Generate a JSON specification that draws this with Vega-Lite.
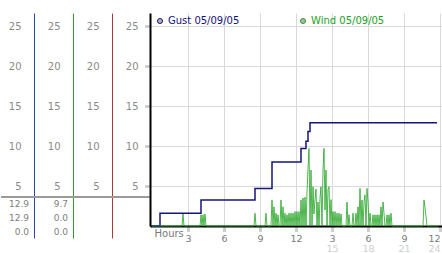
{
  "$schema": "https://vega.github.io/schema/vega-lite/v6.json",
  "padding": {"left": 0, "top": 13, "right": 0, "bottom": 0},
  "background": "white",
  "spacing": 0,
  "bounds": "flush",
  "config": {
    "view": {"stroke": null},
    "font": "DejaVu Sans",
    "axis": {"labelFont": "DejaVu Sans", "labelColor": "#8a8a8a", "labelFontSize": 10, "titleFont": "DejaVu Sans"},
    "legend": {"labelFont": "DejaVu Sans", "symbolFillColor": "#b4b4b4", "symbolStrokeColor": "#8c8c8c"}
  },
  "datasets": {
    "stats": [
      {"series": "Gust", "stat": "Max", "value": 12.9},
      {"series": "Gust", "stat": "Last", "value": 12.9},
      {"series": "Gust", "stat": "Min", "value": 0},
      {"series": "Wind", "stat": "Max", "value": 9.7},
      {"series": "Wind", "stat": "Last", "value": 0},
      {"series": "Wind", "stat": "Min", "value": 0}
    ],
    "gust": [
      {"minute": 0, "speed": 0},
      {"minute": 40, "speed": 1.6},
      {"minute": 245, "speed": 3.25},
      {"minute": 515, "speed": 4.7},
      {"minute": 600, "speed": 8.0},
      {"minute": 745, "speed": 9.7},
      {"minute": 770, "speed": 10.6},
      {"minute": 780, "speed": 11.8},
      {"minute": 790, "speed": 12.9},
      {"minute": 1425, "speed": 12.9}
    ],
    "wind": [
      {"minute": 0, "speed": 0}, {"minute": 150, "speed": 0}, {"minute": 155, "speed": 1.5}, {"minute": 160, "speed": 0},
      {"minute": 240, "speed": 0}, {"minute": 245, "speed": 1.4}, {"minute": 250, "speed": 0}, {"minute": 255, "speed": 1.4},
      {"minute": 260, "speed": 0}, {"minute": 265, "speed": 1.5}, {"minute": 270, "speed": 0},
      {"minute": 510, "speed": 0}, {"minute": 515, "speed": 1.6}, {"minute": 520, "speed": 0},
      {"minute": 565, "speed": 0}, {"minute": 570, "speed": 1.6}, {"minute": 575, "speed": 0},
      {"minute": 595, "speed": 0}, {"minute": 600, "speed": 3.25}, {"minute": 605, "speed": 0}, {"minute": 610, "speed": 2.4},
      {"minute": 615, "speed": 0}, {"minute": 620, "speed": 1.6}, {"minute": 625, "speed": 0}, {"minute": 630, "speed": 1.4},
      {"minute": 635, "speed": 0}, {"minute": 640, "speed": 0}, {"minute": 645, "speed": 3.25}, {"minute": 650, "speed": 0},
      {"minute": 655, "speed": 2.4}, {"minute": 660, "speed": 0}, {"minute": 665, "speed": 1.6}, {"minute": 670, "speed": 0},
      {"minute": 675, "speed": 1.4}, {"minute": 680, "speed": 0}, {"minute": 685, "speed": 1.6}, {"minute": 690, "speed": 0},
      {"minute": 695, "speed": 1.6}, {"minute": 700, "speed": 0}, {"minute": 705, "speed": 1.6}, {"minute": 710, "speed": 0},
      {"minute": 715, "speed": 1.8}, {"minute": 720, "speed": 0}, {"minute": 725, "speed": 1.8}, {"minute": 730, "speed": 0},
      {"minute": 735, "speed": 1.8}, {"minute": 740, "speed": 0}, {"minute": 745, "speed": 3.25}, {"minute": 750, "speed": 0},
      {"minute": 755, "speed": 3.5}, {"minute": 760, "speed": 0}, {"minute": 765, "speed": 3.6}, {"minute": 770, "speed": 0},
      {"minute": 775, "speed": 4.2}, {"minute": 780, "speed": 7.2}, {"minute": 785, "speed": 9.7}, {"minute": 790, "speed": 0},
      {"minute": 795, "speed": 7.0}, {"minute": 800, "speed": 0}, {"minute": 805, "speed": 4.9}, {"minute": 810, "speed": 1.5},
      {"minute": 815, "speed": 3.3}, {"minute": 820, "speed": 4.6}, {"minute": 825, "speed": 0}, {"minute": 830, "speed": 3.0},
      {"minute": 835, "speed": 0}, {"minute": 840, "speed": 3.5}, {"minute": 845, "speed": 4.9}, {"minute": 850, "speed": 0},
      {"minute": 855, "speed": 7.0}, {"minute": 860, "speed": 9.7}, {"minute": 865, "speed": 2.0}, {"minute": 870, "speed": 7.0},
      {"minute": 875, "speed": 0}, {"minute": 880, "speed": 4.6}, {"minute": 885, "speed": 4.9}, {"minute": 890, "speed": 0},
      {"minute": 895, "speed": 3.3}, {"minute": 900, "speed": 0}, {"minute": 905, "speed": 1.8}, {"minute": 910, "speed": 0},
      {"minute": 915, "speed": 1.8}, {"minute": 920, "speed": 0}, {"minute": 925, "speed": 1.6}, {"minute": 930, "speed": 0},
      {"minute": 935, "speed": 1.6}, {"minute": 940, "speed": 0}, {"minute": 945, "speed": 1.5}, {"minute": 950, "speed": 0},
      {"minute": 970, "speed": 0}, {"minute": 975, "speed": 3.0}, {"minute": 980, "speed": 0}, {"minute": 985, "speed": 1.4},
      {"minute": 990, "speed": 0}, {"minute": 1000, "speed": 0}, {"minute": 1005, "speed": 1.6}, {"minute": 1010, "speed": 0},
      {"minute": 1015, "speed": 0}, {"minute": 1020, "speed": 1.6}, {"minute": 1025, "speed": 0}, {"minute": 1030, "speed": 2.4},
      {"minute": 1035, "speed": 0}, {"minute": 1040, "speed": 4.7}, {"minute": 1045, "speed": 0}, {"minute": 1050, "speed": 3.25},
      {"minute": 1055, "speed": 0}, {"minute": 1060, "speed": 3.0}, {"minute": 1065, "speed": 3.9}, {"minute": 1070, "speed": 0},
      {"minute": 1075, "speed": 4.7}, {"minute": 1080, "speed": 3.0}, {"minute": 1085, "speed": 0}, {"minute": 1090, "speed": 1.6},
      {"minute": 1095, "speed": 0}, {"minute": 1100, "speed": 0}, {"minute": 1105, "speed": 1.4}, {"minute": 1110, "speed": 0},
      {"minute": 1115, "speed": 1.4}, {"minute": 1120, "speed": 0}, {"minute": 1125, "speed": 1.4}, {"minute": 1130, "speed": 0},
      {"minute": 1135, "speed": 1.4}, {"minute": 1140, "speed": 0}, {"minute": 1145, "speed": 2.4}, {"minute": 1150, "speed": 0},
      {"minute": 1155, "speed": 3.0}, {"minute": 1160, "speed": 1.6}, {"minute": 1165, "speed": 0}, {"minute": 1170, "speed": 0},
      {"minute": 1175, "speed": 1.4}, {"minute": 1180, "speed": 0}, {"minute": 1185, "speed": 1.4}, {"minute": 1190, "speed": 0},
      {"minute": 1195, "speed": 1.6}, {"minute": 1200, "speed": 0},
      {"minute": 1355, "speed": 0}, {"minute": 1360, "speed": 3.25}, {"minute": 1365, "speed": 2.3}, {"minute": 1370, "speed": 1.2},
      {"minute": 1375, "speed": 0}, {"minute": 1430, "speed": 0}
    ]
  },
  "hconcat": [
    {
      "width": 33, "height": 225,
      "layer": [
        {
          "data": {"values": [{}]},
          "mark": {"type": "rule", "color": "#9a9a9a", "strokeWidth": 2},
          "encoding": {
            "y": {"datum": 3.625, "type": "quantitative",
              "scale": {"domain": [-1.5, 26.625], "nice": false, "zero": false},
              "axis": {"orient": "left", "offset": -33, "values": [5, 10, 15, 20, 25], "ticks": false, "grid": false,
                "domainColor": "#2a46a0", "domainWidth": 1, "labelPadding": 13, "title": null}}
          }
        },
        {
          "data": {"name": "stats"},
          "transform": [{"filter": "datum.series == 'Gust'"}],
          "mark": {"type": "text", "x": "width", "dx": -5, "align": "right", "baseline": "middle", "fontSize": 9, "color": "#808080"},
          "encoding": {
            "y": {"field": "stat", "type": "ordinal", "sort": ["Max", "Last", "Min"],
              "scale": {"type": "point", "range": [191, 219], "padding": 0}, "axis": null},
            "text": {"field": "value", "type": "quantitative", "format": ".1f"}
          }
        }
      ],
      "resolve": {"scale": {"y": "independent"}}
    },
    {
      "width": 39, "height": 225,
      "layer": [
        {
          "data": {"values": [{}]},
          "mark": {"type": "rule", "color": "#9a9a9a", "strokeWidth": 2},
          "encoding": {
            "y": {"datum": 3.625, "type": "quantitative",
              "scale": {"domain": [-1.5, 26.625], "nice": false, "zero": false},
              "axis": {"orient": "left", "offset": -39, "values": [5, 10, 15, 20, 25], "ticks": false, "grid": false,
                "domainColor": "#2f9e2f", "domainWidth": 1, "labelPadding": 13, "title": null}}
          }
        },
        {
          "data": {"name": "stats"},
          "transform": [{"filter": "datum.series == 'Wind'"}],
          "mark": {"type": "text", "x": "width", "dx": -5, "align": "right", "baseline": "middle", "fontSize": 9, "color": "#808080"},
          "encoding": {
            "y": {"field": "stat", "type": "ordinal", "sort": ["Max", "Last", "Min"],
              "scale": {"type": "point", "range": [191, 219], "padding": 0}, "axis": null},
            "text": {"field": "value", "type": "quantitative", "format": ".1f"}
          }
        }
      ],
      "resolve": {"scale": {"y": "independent"}}
    },
    {
      "width": 39, "height": 225,
      "data": {"values": [{}]},
      "mark": {"type": "rule", "color": "#9a9a9a", "strokeWidth": 2},
      "encoding": {
        "y": {"datum": 3.625, "type": "quantitative",
          "scale": {"domain": [-1.5, 26.625], "nice": false, "zero": false},
          "axis": {"orient": "left", "offset": -39, "values": [5, 10, 15, 20, 25], "ticks": false, "grid": false,
            "domainColor": "#b03a3a", "domainWidth": 1, "labelPadding": 13, "title": null}}
      }
    },
    {
      "width": 38, "height": 225,
      "data": {"values": [{}]},
      "mark": {"type": "rule", "color": "#9a9a9a", "strokeWidth": 2},
      "encoding": {
        "y": {"datum": 3.625, "type": "quantitative",
          "scale": {"domain": [-1.5, 26.625], "nice": false, "zero": false}, "axis": null}
      }
    },
    {
      "width": 293, "height": 213,
      "layer": [
        {
          "data": {"name": "gust"},
          "mark": {"type": "line", "interpolate": "step-after", "strokeWidth": 1.5},
          "encoding": {
            "x": {"field": "minute", "type": "quantitative",
              "scale": {"domain": [-10, 1455], "nice": false, "zero": false},
              "axis": {"orient": "bottom", "values": [180, 360, 540, 720, 900, 1080, 1260, 1440],
                "labelExpr": "datum.value % 720 == 0 ? '12' : '' + (datum.value / 60 % 12)",
                "grid": true, "gridColor": "#d9d9d9", "domainColor": "#000000", "domainWidth": 2,
                "tickSize": 5, "tickColor": "#a0a0a0", "tickWidth": 3, "tickDash": [1, 1],
                "labelPadding": 2, "labelFlush": 4, "labelFontSize": 9.5, "labelColor": "#7a7a7a",
                "title": "Hours", "titleX": 4, "titleY": 7, "titleAlign": "left", "titleAnchor": "start",
                "titleBaseline": "middle", "titleFontWeight": "normal", "titleFontSize": 10, "titleColor": "#7a7a7a"}},
            "y": {"field": "speed", "type": "quantitative",
              "scale": {"domain": [0, 26.625], "nice": false, "zero": false},
              "axis": {"values": [5, 10, 15, 20, 25], "grid": true, "gridColor": "#d9d9d9", "domainColor": "#000000",
                "domainWidth": 2, "tickSize": 5, "tickColor": "#a0a0a0", "tickWidth": 3, "tickDash": [1, 1],
                "labelPadding": 7, "labelColor": "#8a8a8a", "labelFontSize": 10, "title": null}},
            "color": {"datum": "Gust 05/09/05", "type": "nominal",
              "scale": {"domain": ["Gust 05/09/05", "Wind 05/09/05"], "range": ["#14147f", "#22a322"]},
              "legend": {"orient": "none", "legendX": 154, "legendY": 3, "direction": "horizontal", "title": null,
                "symbolType": "circle", "symbolSize": 25, "symbolFillColor": "#b4b4b4", "symbolStrokeColor": "#8c8c8c",
                "symbolStrokeWidth": 1, "labelFontSize": 10, "labelOffset": 3, "columnPadding": 58, "padding": 0,
                "encode": {
                  "labels": {"update": {"fill": {"signal": "datum.value === 'Gust 05/09/05' ? '#14147f' : '#22a322'"}}},
                  "symbols": {"update": {"fill": {"value": "#b4b4b4"}, "stroke": {"value": "#8c8c8c"}, "strokeWidth": {"value": 1}, "opacity": {"value": 1}}}
                }}}
          }
        },
        {
          "data": {"name": "wind"},
          "mark": {"type": "line", "strokeWidth": 0.8},
          "encoding": {
            "x": {"field": "minute", "type": "quantitative",
              "axis": {"orient": "bottom", "values": [900, 1080, 1260, 1440], "labelExpr": "'' + datum.value / 60",
                "grid": false, "domain": false, "ticks": true, "tickOpacity": 0, "tickSize": 5,
                "labelPadding": 12, "labelFlush": 4, "labelColor": "#cfcfcf", "labelFontSize": 9.5, "title": null}},
            "y": {"field": "speed", "type": "quantitative"},
            "color": {"datum": "Wind 05/09/05", "type": "nominal",
              "legend": {"orient": "none", "legendX": 154, "legendY": 3, "direction": "horizontal", "title": null,
                "symbolType": "circle", "symbolSize": 25, "symbolFillColor": "#b4b4b4", "symbolStrokeColor": "#8c8c8c",
                "symbolStrokeWidth": 1, "labelFontSize": 10, "labelOffset": 3, "columnPadding": 58, "padding": 0,
                "encode": {
                  "labels": {"update": {"fill": {"signal": "datum.value === 'Gust 05/09/05' ? '#14147f' : '#22a322'"}}},
                  "symbols": {"update": {"fill": {"value": "#b4b4b4"}, "stroke": {"value": "#8c8c8c"}, "strokeWidth": {"value": 1}, "opacity": {"value": 1}}}
                }}}
          }
        }
      ],
      "resolve": {"axis": {"x": "independent"}}
    }
  ]
}
